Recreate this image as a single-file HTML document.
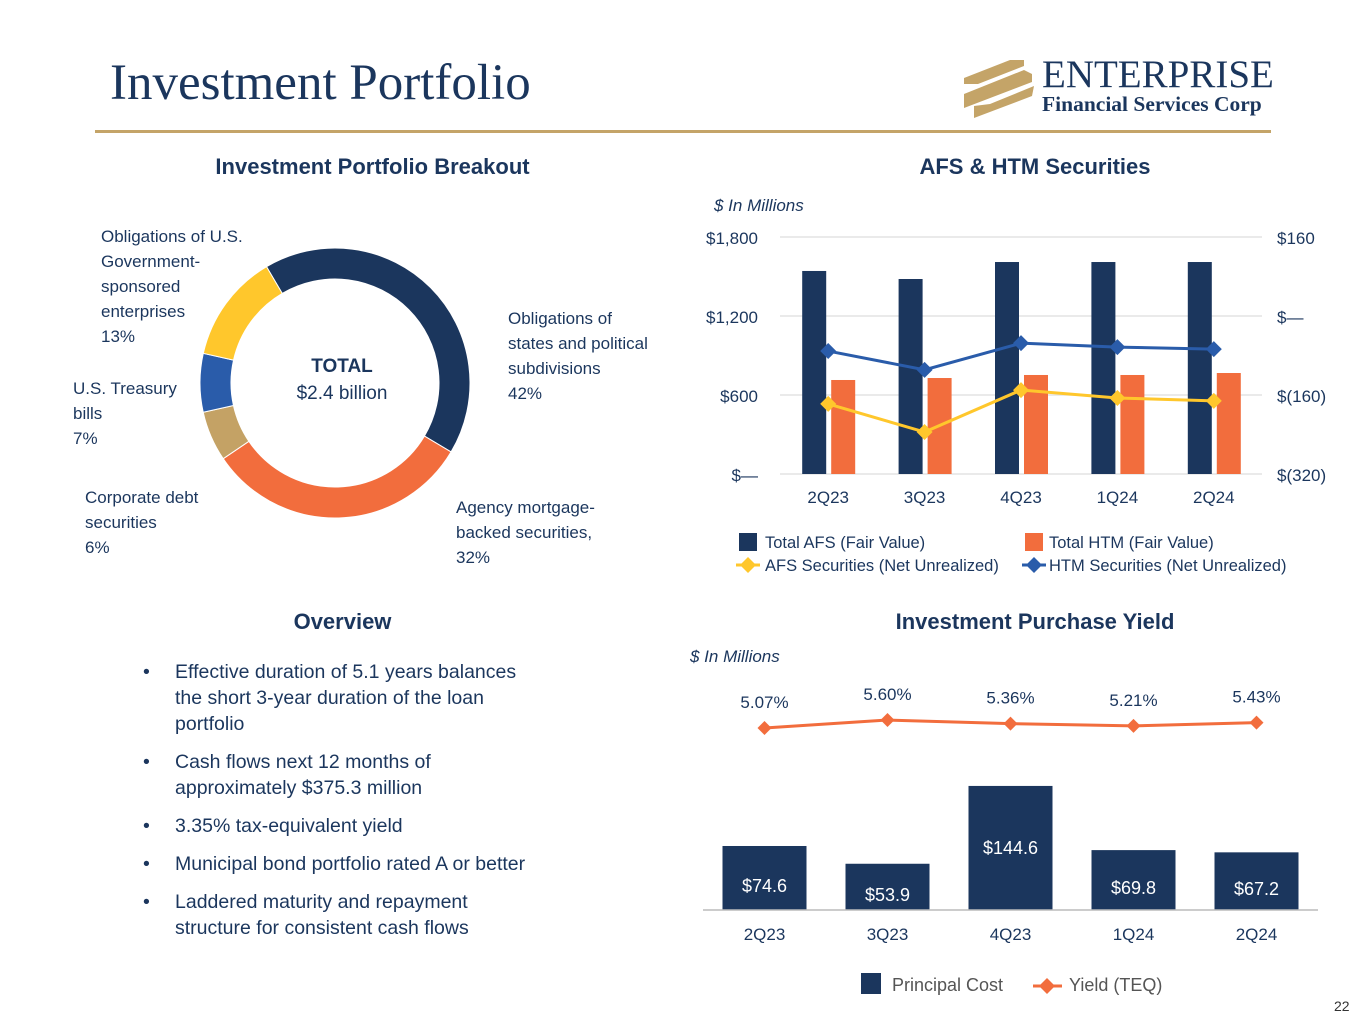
<!DOCTYPE html>
<html><head><meta charset="utf-8">
<style>
body{margin:0;width:1365px;height:1024px;background:#fff;overflow:hidden;font-family:"Liberation Sans",sans-serif;color:#1b365d;position:relative}
.abs{position:absolute}
.title{left:110px;top:54px;font-family:"Liberation Serif",serif;font-size:51px;color:#1b365d}
.rule{left:95px;top:130px;width:1176px;height:3px;background:#c4a468}
.h{font-weight:bold;font-size:22px;text-align:center}
.lbl{font-size:17px;line-height:25px;color:#1b365d}
ul{margin:0;padding:0;list-style:none}
li{position:relative;padding-left:32px;font-size:19.5px;line-height:26px;margin-bottom:12px}
li:before{content:"•";position:absolute;left:0}
svg text{font-family:"Liberation Sans",sans-serif}
</style></head><body>
<div class="abs title">Investment Portfolio</div>
<div class="abs rule"></div>
<div class="abs" style="left:962px;top:56px;width:310px;height:64px">
<svg width="80" height="64" style="position:absolute;left:0;top:0">
<g fill="#c4a468"><polygon points="2,22 48,4 62,4 62,10 16,28 2,28"/><polygon points="2,38 62,14 70,18 70,26 2,52"/><polygon points="12,62 70,40 72,30 28,48 12,50"/></g></svg>
<div style="position:absolute;left:80px;top:0;font-family:'Liberation Serif',serif;font-size:39px;line-height:38px;color:#1b365d">ENTERPRISE</div>
<div style="position:absolute;left:80px;top:36px;font-family:'Liberation Serif',serif;font-size:21.5px;font-weight:bold;color:#1b365d">Financial Services Corp</div>
</div>

<div class="abs h" style="left:140px;top:154px;width:465px">Investment Portfolio Breakout</div>
<div class="abs h" style="left:800px;top:154px;width:470px">AFS &amp; HTM Securities</div>
<div class="abs h" style="left:140px;top:609px;width:405px">Overview</div>
<div class="abs h" style="left:800px;top:609px;width:470px">Investment Purchase Yield</div>

<svg class="abs" style="left:0;top:0" width="1365" height="1024" id="donut"></svg>
<div class="abs lbl" style="left:101px;top:224px">Obligations of U.S.<br>Government-<br>sponsored<br>enterprises<br>13%</div>
<div class="abs lbl" style="left:508px;top:306px">Obligations of<br>states and political<br>subdivisions<br>42%</div>
<div class="abs lbl" style="left:73px;top:376px">U.S. Treasury<br>bills<br>7%</div>
<div class="abs lbl" style="left:85px;top:485px">Corporate debt<br>securities<br>6%</div>
<div class="abs lbl" style="left:456px;top:495px">Agency mortgage-<br>backed securities,<br>32%</div>
<div class="abs" style="left:262px;top:353px;width:160px;text-align:center;font-size:19px;line-height:27px"><b>TOTAL</b><br>$2.4 billion</div>

<ul class="abs" style="left:143px;top:659px;width:395px">
<li>Effective duration of 5.1 years balances the short 3-year duration of the loan portfolio</li>
<li>Cash flows next 12 months of approximately $375.3 million</li>
<li>3.35% tax-equivalent yield</li>
<li>Municipal bond portfolio rated A or better</li>
<li>Laddered maturity and repayment structure for consistent cash flows</li>
</ul>

<svg class="abs" style="left:0;top:0" width="1365" height="1024" id="afs"></svg>
<svg class="abs" style="left:0;top:0" width="1365" height="1024" id="yld"></svg>
<div class="abs" style="left:1334px;top:998px;font-size:14px;color:#333">22</div>

<script>
const sliceNames=["States & political subdivisions","Agency MBS","Corporate debt","U.S. Treasury bills","GSE obligations"];
const slicePcts=[42,32,6,7,13];
const sliceColors=["#1b365d","#f26d3d","#c4a265","#2a5caa","#ffc72c"];

const quarters=["2Q23","3Q23","4Q23","1Q24","2Q24"];
const afsFair=[1542,1481,1610,1610,1610];
const htmFair=[714,729,752,752,767];
const afsUnreal=[-178,-235,-150,-166,-172];
const htmUnreal=[-71,-109,-55,-63,-67];
const leftTicks=[0,600,1200,1800];
const leftTickLabels=["$—","$600","$1,200","$1,800"];
const rightTicks=[-320,-160,0,160];
const rightTickLabels=["$(320)","$(160)","$—","$160"];

const principalCost=[74.6,53.9,144.6,69.8,67.2];
const yieldTeq=[5.07,5.60,5.36,5.21,5.43];
const costLabels=["$74.6","$53.9","$144.6","$69.8","$67.2"];
const yieldLabels=["5.07%","5.60%","5.36%","5.21%","5.43%"];

const NS="http://www.w3.org/2000/svg";
function mk(p,t,a){const e=document.createElementNS(NS,t);for(const k in a)e.setAttribute(k,a[k]);p.appendChild(e);return e;}
function txt(p,x,y,s,a){const e=mk(p,"text",Object.assign({x:x,y:y},a));e.textContent=s;return e;}
function dia(p,x,y,r,c){return mk(p,"polygon",{points:`${x},${y-r} ${x+r},${y} ${x},${y+r} ${x-r},${y}`,fill:c});}

// donut
(function(){const s=document.getElementById("donut");const cx=335,cy=383,R=135,r=104;
let a=-30.5*Math.PI/180;const tot=slicePcts.reduce((x,y)=>x+y,0);
slicePcts.forEach((v,i)=>{const b=a+v/tot*2*Math.PI;const L=(b-a)>Math.PI?1:0;
const p=(rad,t)=>[cx+rad*Math.sin(t),cy-rad*Math.cos(t)];
const [x1,y1]=p(R,a),[x2,y2]=p(R,b),[x3,y3]=p(r,b),[x4,y4]=p(r,a);
const e=mk(s,"path",{d:`M${x1},${y1}A${R},${R} 0 ${L} 1 ${x2},${y2}L${x3},${y3}A${r},${r} 0 ${L} 0 ${x4},${y4}Z`,fill:sliceColors[i],stroke:"#fff","stroke-width":1});


a=b;});})();

// AFS & HTM
(function(){const s=document.getElementById("afs");const x0=780,x1=1262,yB=474,yT=237;
const band=(x1-x0)/quarters.length;const cx=i=>x0+band*(i+0.5);
const yL=v=>yB-(v/1800)*(yB-yT);const yR=v=>yB-((v+320)/480)*(yB-yT);
txt(s,714,211,"$ In Millions",{"font-size":17,"font-style":"italic",fill:"#1b365d"});
leftTicks.forEach((t,i)=>{mk(s,"line",{x1:x0,x2:x1,y1:yL(t),y2:yL(t),stroke:"#e3e3e3","stroke-width":1.5});
const e=txt(s,758,yL(t)+7,leftTickLabels[i],{"font-size":17,fill:"#1b365d","text-anchor":"end"});});
rightTicks.forEach((t,i)=>{const e=txt(s,1277,yR(t)+7,rightTickLabels[i],{"font-size":17,fill:"#1b365d"});});
quarters.forEach((q,i)=>{
const b1=mk(s,"rect",{x:cx(i)-26,y:yL(afsFair[i]),width:24,height:yB-yL(afsFair[i]),fill:"#1b365d"});

const b2=mk(s,"rect",{x:cx(i)+3,y:yL(htmFair[i]),width:24,height:yB-yL(htmFair[i]),fill:"#f26d3d"});

const t=txt(s,cx(i),503,q,{"font-size":17,fill:"#1b365d","text-anchor":"middle"});});
[[afsUnreal,"#ffc72c","afs-unrealized"],[htmUnreal,"#2a5caa","htm-unrealized"]].forEach(([d,c,n])=>{
const l=mk(s,"polyline",{points:d.map((v,i)=>cx(i)+","+yR(v)).join(" "),fill:"none",stroke:c,"stroke-width":3});

d.forEach((v,i)=>{const m=dia(s,cx(i),yR(v),8,c);});});
mk(s,"rect",{x:739,y:533,width:18,height:18,fill:"#1b365d"});txt(s,765,548,"Total AFS (Fair Value)",{"font-size":16.5,fill:"#1b365d"});
mk(s,"rect",{x:1025,y:533,width:18,height:18,fill:"#f26d3d"});txt(s,1049,548,"Total HTM (Fair Value)",{"font-size":16.5,fill:"#1b365d"});
mk(s,"line",{x1:736,x2:760,y1:565,y2:565,stroke:"#ffc72c","stroke-width":3});dia(s,748,565,8,"#ffc72c");txt(s,765,571,"AFS Securities (Net Unrealized)",{"font-size":16.5,fill:"#1b365d"});
mk(s,"line",{x1:1022,x2:1046,y1:565,y2:565,stroke:"#2a5caa","stroke-width":3});dia(s,1034,565,8,"#2a5caa");txt(s,1049,571,"HTM Securities (Net Unrealized)",{"font-size":16.5,fill:"#1b365d"});
})();

// Purchase yield
(function(){const s=document.getElementById("yld");const x0=703,x1=1318,yB=910;
const band=(x1-x0)/quarters.length;const cx=i=>x0+band*(i+0.5);
const yC=v=>yB-v*0.858;const yY=v=>728-(v-5.07)*15;
txt(s,690,662,"$ In Millions",{"font-size":17,"font-style":"italic",fill:"#1b365d"});
quarters.forEach((q,i)=>{const top=yC(principalCost[i]);
const b=mk(s,"rect",{x:cx(i)-42,y:top,width:84,height:yB-top,fill:"#1b365d"});
const vl=txt(s,cx(i),Math.max(top+22+ (yB-top)*0.25, top+68>yB?top+(yB-top)/2+14:top+68),costLabels[i],{"font-size":18,fill:"#fff","text-anchor":"middle"});
const t=txt(s,cx(i),940,q,{"font-size":17,fill:"#1b365d","text-anchor":"middle"});
const yl=txt(s,cx(i),yY(yieldTeq[i])-20,yieldLabels[i],{"font-size":17,fill:"#1b365d","text-anchor":"middle"});});
mk(s,"line",{x1:x0,x2:x1,y1:yB,y2:yB,stroke:"#bbb","stroke-width":1.5});
const l=mk(s,"polyline",{points:yieldTeq.map((v,i)=>cx(i)+","+yY(v)).join(" "),fill:"none",stroke:"#f26d3d","stroke-width":3});

yieldTeq.forEach((v,i)=>{const m=dia(s,cx(i),yY(v),7,"#f26d3d");});
mk(s,"rect",{x:861,y:973,width:20,height:21,fill:"#1b365d"});txt(s,892,991,"Principal Cost",{"font-size":18,fill:"#555"});
mk(s,"line",{x1:1033,x2:1062,y1:986,y2:986,stroke:"#f26d3d","stroke-width":3});dia(s,1047,986,8,"#f26d3d");txt(s,1069,991,"Yield (TEQ)",{"font-size":18,fill:"#555"});
})();
</script>
</body></html>
